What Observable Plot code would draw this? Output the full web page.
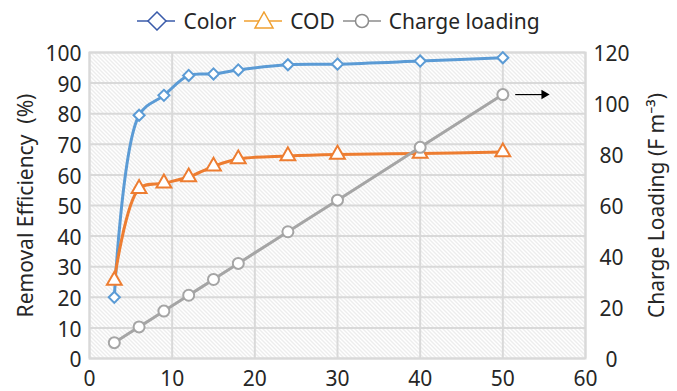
<!DOCTYPE html>
<html>
<head>
<meta charset="utf-8">
<script src="https://cdn.jsdelivr.net/npm/d3@7"></script>
<script src="https://cdn.jsdelivr.net/npm/@observablehq/plot@0.6"></script>
<style>
  html, body { margin: 0; padding: 0; background: #fff; }
  body { width: 677px; height: 391px; overflow: hidden; font-family: "Noto Sans", sans-serif; color: #262626; }
  #legend { height: 38px; padding-top: 3px; display: flex; align-items: center; justify-content: center; font-size: 21px; box-sizing: border-box; }
  #legend .item { display: flex; align-items: center; margin: 0 4px; }
  #legend svg { margin-right: 6px; }
</style>
</head>
<body>
<div id="legend"></div>
<div id="chart"></div>
<script>
// Data
const time = [3, 6, 9, 12, 15, 18, 24, 30, 40, 50];
const colorRemoval = [20, 79.5, 86, 92.5, 93, 94.3, 96, 96.2, 97.2, 98.3];
const codRemoval = [25.5, 55.5, 57.3, 59.3, 62.8, 65.2, 66.2, 66.7, 67, 67.5];
const chargeLoading = [6.2, 12.4, 18.6, 24.8, 31, 37.3, 49.7, 62.1, 82.8, 103.5];
const xTicks = [0, 10, 20, 30, 40, 50, 60];
const leftTicks = [0, 10, 20, 30, 40, 50, 60, 70, 80, 90, 100];
const rightTicks = [0, 20, 40, 60, 80, 100, 120];
const seriesNames = ["Color", "COD", "Charge loading"];
const arrowFrom = {x: 51.5, y: 103.5};
const arrowTo = {x: 55, y: 103.5};

const RIGHT_MAX = 120, LEFT_MAX = 100;
const toLeft = v => v * LEFT_MAX / RIGHT_MAX;

const blue = "#5B9BD5", orange = "#ED7D31", gray = "#A5A5A5";
const legendColors = ["#3A5BAA", "#F0A030", "#8C8C8C"];

const colorData = time.map((t, i) => ({t, v: colorRemoval[i]}));
const codData = time.map((t, i) => ({t, v: codRemoval[i]}));
const chargeData = time.map((t, i) => ({t, v: toLeft(chargeLoading[i])}));

const font = "Noto Sans, sans-serif";
const plot = Plot.plot({
  width: 677,
  height: 353,
  marginLeft: 89,
  marginRight: 92,
  marginTop: 14,
  marginBottom: 33,
  style: {fontFamily: font, fontSize: "21px", color: "#262626", background: "transparent"},
  x: {domain: [0, 60]},
  y: {domain: [0, 100]},
  marks: [
    Plot.frame({fill: "url(#hatch)", stroke: "none"}),
    Plot.gridX(xTicks, {stroke: "#d9d9d9", strokeOpacity: 1, strokeWidth: 2}),
    Plot.gridY(leftTicks, {stroke: "#d9d9d9", strokeOpacity: 1, strokeWidth: 2}),
    Plot.frame({stroke: "#d9d9d9", strokeWidth: 2}),
    Plot.axisX(xTicks, {tickSize: 0, tickPadding: 13, fontSize: 21, label: null}),
    Plot.axisY(leftTicks, {tickSize: 0, tickPadding: 8, dy: 2, fontSize: 21, label: "Removal Efficiency  (%)", labelAnchor: "center", labelArrow: "none", labelOffset: 71}),
    Plot.axisY(rightTicks.map(toLeft), {anchor: "right", tickSize: 0, tickPadding: 26, dy: 2, textAnchor: "middle", fontSize: 21,
      tickFormat: d => String(Math.round(d * RIGHT_MAX / LEFT_MAX)),
      label: "Charge Loading (F m\u207B\u00B3)", labelAnchor: "center", labelArrow: "none", labelOffset: 78}),
    Plot.line(colorData, {x: "t", y: "v", stroke: blue, strokeWidth: 3, curve: "catmull-rom"}),
    Plot.dot(colorData, {x: "t", y: "v", symbol: "diamond2", r: 5, stroke: blue, fill: "white", strokeWidth: 2}),
    Plot.line(codData, {x: "t", y: "v", stroke: orange, strokeWidth: 3, curve: "catmull-rom"}),
    Plot.dot(codData, {x: "t", y: "v", symbol: "triangle", r: 5.5, stroke: orange, fill: "white", strokeWidth: 2}),
    Plot.line(chargeData, {x: "t", y: "v", stroke: gray, strokeWidth: 3, curve: "catmull-rom"}),
    Plot.dot(chargeData, {x: "t", y: "v", symbol: "circle", r: 5.5, stroke: gray, fill: "white", strokeWidth: 2}),
    Plot.link([{x1: arrowFrom.x, y1: toLeft(arrowFrom.y), x2: arrowTo.x, y2: toLeft(arrowTo.y)}], {x1: "x1", y1: "y1", x2: "x2", y2: "y2", stroke: "black", strokeWidth: 1.2}),
    Plot.dot([{x: arrowTo.x, y: toLeft(arrowTo.y)}], {x: "x", y: "y", symbol: "triangle2", r: 4.5, fill: "black", rotate: 90})
  ]
});

// hatch pattern for the plot background
const ns = "http://www.w3.org/2000/svg";
const defs = document.createElementNS(ns, "defs");
defs.innerHTML = `<pattern id="hatch" patternUnits="userSpaceOnUse" width="4" height="4">
  <rect width="4" height="4" fill="#ffffff"/>
  <path d="M0,0 L4,4 M-1,3 L1,5 M3,-1 L5,1" stroke="#dadada" stroke-width="1"/>
</pattern>`;
plot.insertBefore(defs, plot.firstChild);
document.getElementById("chart").appendChild(plot);

// legend
const legend = d3.select("#legend");
const markers = [
  (g) => g.append("path").attr("d", "M20,1 L29,10 L20,19 L11,10 Z"),
  (g) => g.append("path").attr("d", "M20,1 L29,17 L11,17 Z"),
  (g) => g.append("circle").attr("cx", 19).attr("cy", 10).attr("r", 6.5)
];
seriesNames.forEach((name, i) => {
  const item = legend.append("div").attr("class", "item");
  const s = item.append("svg").attr("width", 40).attr("height", 20);
  s.append("line").attr("x1", 0).attr("x2", 38).attr("y1", 10).attr("y2", 10).attr("stroke", legendColors[i]).attr("stroke-width", 1.5);
  markers[i](s).attr("fill", "white").attr("stroke", legendColors[i]).attr("stroke-width", 1.5);
  item.append("span").text(name);
});
</script>
</body>
</html>
